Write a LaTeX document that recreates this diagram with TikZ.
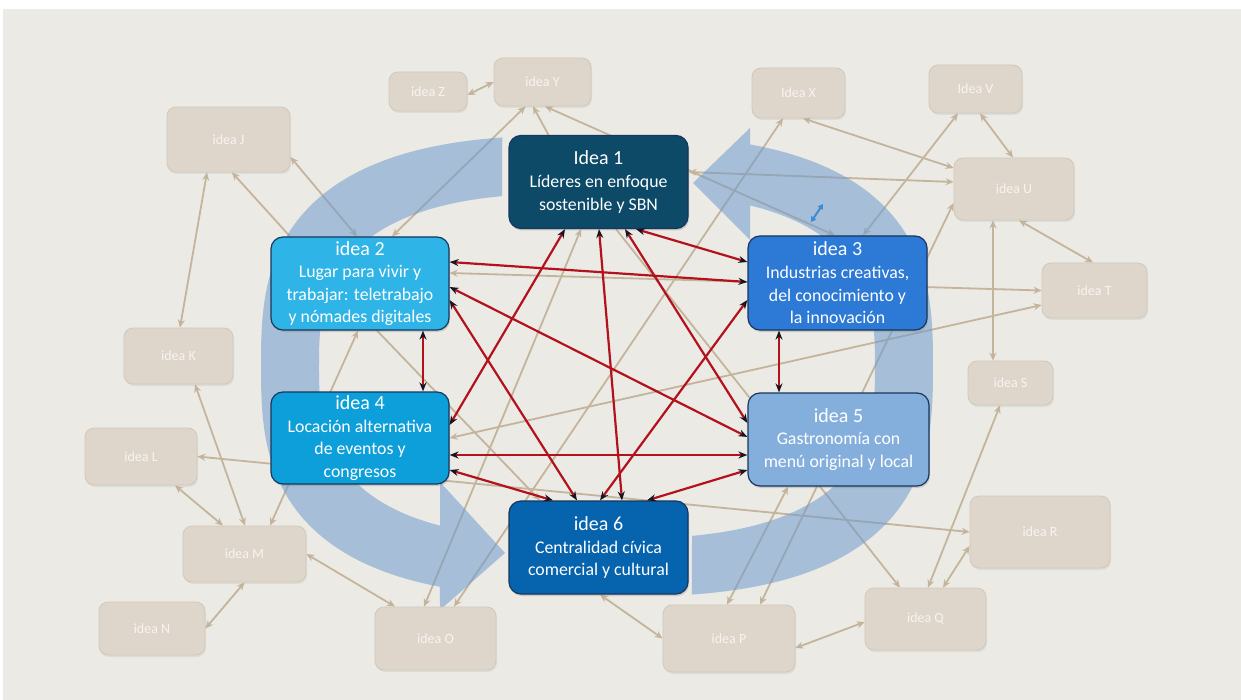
\documentclass[tikz,border=0pt]{standalone}
\usepackage{fontspec}
\setmainfont{Carlito}
\usetikzlibrary{arrows.meta,shadows}
\definecolor{bggray}{HTML}{EBEAE5}
\definecolor{tanfill}{HTML}{DED6CB}
\definecolor{tanedge}{HTML}{D2C8BA}
\definecolor{tantext}{HTML}{F7F4F0}
\definecolor{tanline}{HTML}{C5B49C}
\definecolor{bandc}{HTML}{6E9BCC}
\definecolor{redc}{HTML}{B3121C}
\definecolor{headc}{HTML}{1A1420}
\definecolor{navy}{HTML}{17375E}
\definecolor{cA}{HTML}{0C4A68}
\definecolor{cB}{HTML}{2EB4E6}
\definecolor{cC}{HTML}{2C79D6}
\definecolor{cD}{HTML}{0D9FDA}
\definecolor{cE}{HTML}{84AFDC}
\definecolor{cF}{HTML}{0663AE}
\definecolor{iconc}{HTML}{3D8BD4}
\pgfdeclarelayer{bgl}
\pgfdeclarelayer{tanl}
\pgfdeclarelayer{bandl}
\pgfdeclarelayer{front}
\pgfsetlayers{bgl,tanl,bandl,main,front}
\newcommand\myttl{\fontsize{20}{24}\selectfont}
\newcommand\mybody{\fontsize{17.8}{22.6}\selectfont}
\tikzset{
  bigbox/.style={draw=navy, line width=1.2pt, rounded corners=12pt, text=white, align=center,
    minimum width=179pt, minimum height=93pt, inner sep=0pt, font=\mybody,
    drop shadow={opacity=0.3, shadow xshift=1pt, shadow yshift=-2pt}},
  smallbox/.style={fill=tanfill, draw=tanedge, line width=0.8pt, rounded corners=9pt, text=tantext,
    inner sep=0pt, font=\fontsize{14}{16}\selectfont,
    drop shadow={opacity=0.12, shadow xshift=1pt, shadow yshift=-2pt}},
  tanlink/.style={draw=tanline, line width=1.8pt, {Stealth[length=8pt,width=7pt]}-{Stealth[length=8pt,width=7pt]}},
  tanone/.style={draw=tanline, line width=1.8pt, -{Stealth[length=8pt,width=7pt]}},
  redlink/.style={draw=redc, line width=2.2pt, {Stealth[length=9pt,width=7pt,color=headc]}-{Stealth[length=9pt,width=7pt,color=headc]}},
  bandfill/.style={fill=bandc, opacity=0.55}
}
\begin{document}
\begin{tikzpicture}[x=1pt,y=-1pt]
\useasboundingbox (0,0) rectangle (1241,700);
\begin{pgfonlayer}{bgl}
\fill[white] (0,0) rectangle (1241,700);
\fill[bggray] (3,9) rectangle (1241,700);
\end{pgfonlayer}

% central nodes
\node[bigbox, fill=cA] (n1) at (598.5,182) {{\myttl Idea 1}\\Líderes en enfoque\\sostenible y SBN};
\node[bigbox, fill=cB, minimum width=178pt] (n2) at (360,283.5) {{\myttl idea 2}\\Lugar para vivir y\\trabajar: teletrabajo\\y nómades digitales};
\node[bigbox, fill=cC, minimum height=94pt] (n3) at (837.5,283) {{\myttl idea 3}\\Industrias creativas,\\del conocimiento y\\la innovación};
\node[bigbox, fill=cD, minimum width=178pt, minimum height=92pt] (n4) at (360,438) {{\myttl idea 4}\\Locación alternativa\\de eventos y\\congresos};
\node[bigbox, fill=cE, minimum width=181pt] (n5) at (838.5,439.5) {{\myttl idea 5}\\Gastronomía con\\menú original y local};
\node[bigbox, fill=cF] (n6) at (598.5,547.5) {{\myttl idea 6}\\Centralidad cívica\\comercial y cultural};

% peripheral nodes
\node[smallbox, minimum width=78pt, minimum height=39pt] (nZ) at (428,91.5) {idea Z};
\node[smallbox, minimum width=97pt, minimum height=48pt] (nY) at (542.5,82) {idea Y};
\node[smallbox, minimum width=93pt, minimum height=50pt] (nX) at (798.5,93) {Idea X};
\node[smallbox, minimum width=93pt, minimum height=48pt] (nV) at (975.5,89) {Idea V};
\node[smallbox, minimum width=120pt, minimum height=62pt] (nU) at (1014,189) {idea U};
\node[smallbox, minimum width=105pt, minimum height=55pt] (nT) at (1094.5,290.5) {idea T};
\node[smallbox, minimum width=85pt, minimum height=44pt] (nS) at (1010.5,383) {idea S};
\node[smallbox, minimum width=140pt, minimum height=72pt] (nR) at (1040,532) {idea R};
\node[smallbox, minimum width=121pt, minimum height=62pt] (nQ) at (925.5,619) {idea Q};
\node[smallbox, minimum width=132pt, minimum height=67pt] (nP) at (729,638.5) {idea P};
\node[smallbox, minimum width=121pt, minimum height=63pt] (nO) at (435.5,638.5) {idea O};
\node[smallbox, minimum width=106pt, minimum height=53pt] (nN) at (152,628.5) {idea N};
\node[smallbox, minimum width=123pt, minimum height=56pt] (nM) at (244.5,554) {idea M};
\node[smallbox, minimum width=112pt, minimum height=57pt] (nL) at (141,456.5) {idea L};
\node[smallbox, minimum width=109pt, minimum height=56pt] (nK) at (178.5,356) {idea K};
\node[smallbox, minimum width=123pt, minimum height=65pt] (nJ) at (228.5,139.5) {idea J};

% tan connectors
\begin{pgfonlayer}{tanl}
\draw[tanlink] ([yshift=-3.5pt]nZ.east) -- (nY.west);
\draw[tanlink] ([xshift=32pt]n2.north) -- ([xshift=-17pt]nY.south);
\draw[tanone] ([xshift=-50pt]n1.north) -- ([xshift=-9.5pt]nY.south);
\draw[tanlink] ([xshift=2.5pt]nY.south) -- ([xshift=-2.5pt]n3.north);
\draw[tanlink] ([xshift=-21.5pt]nJ.south) -- ([xshift=1.5pt]nK.north);
\draw[tanone] ([xshift=-70pt]n2.north) -- ([xshift=3.5pt]nJ.south);
\draw[tanlink] ([yshift=-17.5pt]nJ.east) -- ([xshift=-3pt]n2.north);
\draw[tanlink] ([xshift=25.5pt]nM.north) -- ([xshift=-2pt]n2.south);
\draw[tanlink] ([xshift=16.5pt]nK.south) -- ([xshift=0.5pt]nM.north);
\draw[tanlink] ([xshift=34pt]nL.south) -- ([xshift=-21.5pt]nM.north);
\draw[tanlink] (nL.east) -- (nR.west);
\draw[tanlink] (nM.south) -- (nN.east);
\draw[tanlink] (nM.east) -- ([xshift=-40.5pt]nO.north);
\draw[tanlink] ([xshift=-11.5pt]nO.north) -- ([xshift=-17.5pt]n1.south);
\draw[tanlink] ([xshift=18.5pt]nO.north) -- ([xshift=-15.5pt]nX.south);
\draw[tanone] ([xshift=17pt]n2.south) -- ([xshift=-58.5pt]n6.north);
\draw[tanone] ([xshift=17.5pt]n1.south) -- ([xshift=-25.5pt]nQ.north);
\draw[tanlink] ([yshift=10.5pt]n2.east) -- (nT.west);
\draw[tanlink] (n4.east) -- ([yshift=-14.5pt]nT.west);
\draw[tanlink] ([yshift=10pt]n1.east) -- ([yshift=7pt]nU.west);
\draw[tanlink] ([xshift=4.5pt]nX.south) -- ([yshift=21pt]nU.west);
\draw[tanlink] ([xshift=-17.5pt]nV.south) -- ([xshift=25.5pt]n3.north);
\draw[tanlink] ([xshift=4.5pt]nV.south) -- ([xshift=-1pt]nU.north);
\draw[tanlink] ([xshift=5pt]nU.south) -- ([xshift=-1.5pt]nT.north);
\draw[tanlink] ([xshift=-21pt]nU.south) -- ([xshift=-17.5pt]nS.north);
\draw[tanlink] ([yshift=-14pt]nU.west) -- ([xshift=31pt]nP.north);
\draw[tanlink] ([xshift=-50.5pt]n5.south) -- ([xshift=-2pt]nP.north);
\draw[tanlink] ([xshift=1.5pt]n6.south) -- (nP.west);
\draw[tanlink] ([yshift=-9.5pt]nP.east) -- ([yshift=-3pt]nQ.west);
\draw[tanlink] ([xshift=2.5pt]nQ.north) -- ([xshift=-10.5pt]nS.south);
\draw[tanlink] ([xshift=17.5pt]nQ.north) -- ([yshift=-14pt]nR.west);
\end{pgfonlayer}

% circular band arrows
\begin{pgfonlayer}{bandl}
\fill[bandfill]
  plot[domain=99.8:249.84, samples=90] ({597+336*cos(\x)*pow(abs(cos(\x))+0.0001,-0.286)},{366-231*sin(\x)*pow(abs(sin(\x))+0.0001,-0.286)})
  -- (440,610) -- (505,553) -- (440,482)
  -- plot[domain=243.3:102.85, samples=90] ({597+278*cos(\x)*pow(abs(cos(\x))+0.0001,-0.286)},{366-173*sin(\x)*pow(abs(sin(\x))+0.0001,-0.286)})
  -- cycle;
\fill[bandfill]
  plot[domain=-80.18:70.58, samples=90] ({597+336*cos(\x)*pow(abs(cos(\x))+0.0001,-0.286)},{366-231*sin(\x)*pow(abs(sin(\x))+0.0001,-0.286)})
  -- (750,128) -- (693,183) -- (750,240)
  -- plot[domain=64.32:-77.15, samples=90] ({597+278*cos(\x)*pow(abs(cos(\x))+0.0001,-0.286)},{366-173*sin(\x)*pow(abs(sin(\x))+0.0001,-0.286)})
  -- cycle;
\end{pgfonlayer}

% red connectors
\begin{pgfonlayer}{front}
\draw[redlink] ([xshift=37.5pt]n1.south) -- ([yshift=21pt]n3.west);
\draw[redlink] ([xshift=-33.5pt]n1.south) -- ([yshift=13pt]n4.east);
\draw[redlink] ([xshift=26.5pt]n1.south) -- ([yshift=16.5pt]n5.west);
\draw[redlink] ([xshift=0.5pt]n1.south) -- ([xshift=23.5pt]n6.north);
\draw[redlink] ([yshift=21.5pt]n2.east) -- ([yshift=1pt]n3.west);
\draw[redlink] ([yshift=-3.5pt]n2.east) -- ([yshift=2.5pt]n5.west);
\draw[redlink] ([xshift=63pt]n2.south) -- ([xshift=63pt]n4.north);
\draw[redlink] ([yshift=-16.5pt]n2.east) -- ([xshift=-21.5pt]n6.north);
\draw[redlink] ([xshift=-58.5pt]n3.south) -- ([xshift=-59.5pt]n5.north);
\draw[redlink] ([yshift=-17pt]n3.west) -- ([xshift=1.5pt]n6.north);
\draw[redlink] ([yshift=-17pt]n4.east) -- ([yshift=-15.5pt]n5.west);
\draw[redlink] ([yshift=-32pt]n4.east) -- ([xshift=-45.5pt]n6.north);
\draw[redlink] ([yshift=-30.5pt]n5.west) -- ([xshift=48.5pt]n6.north);
\coordinate (ic1) at (811,222);
\coordinate (ic2) at (823,204);
\draw[iconc, line width=2pt, {Triangle[length=5pt,width=6pt]}-{Triangle[length=5pt,width=6pt]}] (ic1) -- (ic2);
\end{pgfonlayer}
\end{tikzpicture}
\end{document}
